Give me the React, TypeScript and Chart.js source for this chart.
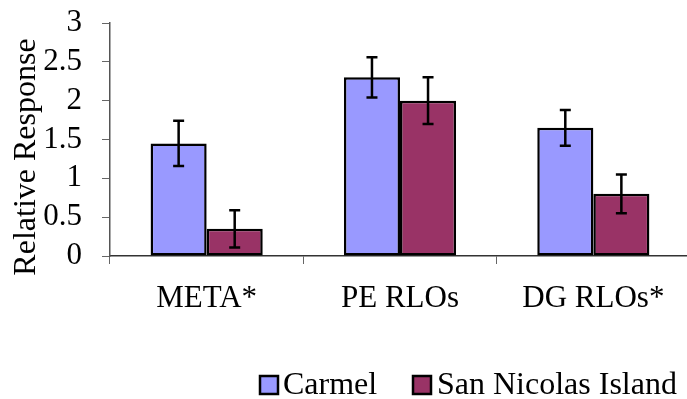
import { useEffect, useRef } from 'react';
import { Chart, registerables } from 'chart.js';

Chart.register(...registerables);

const categories = ['META*', 'PE RLOs', 'DG RLOs*'];
const seriesNames = ['Carmel', 'San Nicolas Island'];
const carmelValues = [1.45, 2.3, 1.65];
const carmelErrors = [0.29, 0.26, 0.23];
const sniValues = [0.35, 2.0, 0.8];
const sniErrors = [0.24, 0.3, 0.25];
const seriesColors = ['#9999FF', '#993366'];
const yTitle = 'Relative Response';

const FONT = "'Liberation Serif', 'Times New Roman', serif";

// Symmetric error bars with short caps, drawn over each bar
const errorBarPlugin = {
  id: 'errorBars',
  afterDatasetsDraw(chart: any) {
    const { ctx } = chart;
    const y = chart.scales.y;
    chart.data.datasets.forEach((ds: any, di: number) => {
      const meta = chart.getDatasetMeta(di);
      meta.data.forEach((bar: any, i: number) => {
        const v = ds.data[i];
        const e = ds.errors[i];
        const top = y.getPixelForValue(v + e);
        const bot = y.getPixelForValue(v - e);
        const half = 5.5;
        ctx.save();
        ctx.strokeStyle = '#000';
        ctx.lineWidth = 2.5;
        ctx.beginPath();
        ctx.moveTo(bar.x, top);
        ctx.lineTo(bar.x, bot);
        ctx.moveTo(bar.x - half, top);
        ctx.lineTo(bar.x + half, top);
        ctx.moveTo(bar.x - half, bot);
        ctx.lineTo(bar.x + half, bot);
        ctx.stroke();
        ctx.restore();
      });
    });
  },
};

// Rotated y-axis title and the bottom legend row
const decorationsPlugin = {
  id: 'decorations',
  afterDraw(chart: any) {
    const { ctx } = chart;
    ctx.save();
    ctx.fillStyle = '#000';
    ctx.font = `32px ${FONT}`;
    ctx.translate(35, 157);
    ctx.rotate(-Math.PI / 2);
    ctx.textAlign = 'center';
    ctx.textBaseline = 'alphabetic';
    ctx.fillText(yTitle, 0, 0);
    ctx.restore();

    const items = [
      { boxX: 260, textX: 283 },
      { boxX: 413, textX: 437 },
    ];
    ctx.save();
    ctx.font = `32px ${FONT}`;
    ctx.textAlign = 'left';
    ctx.textBaseline = 'alphabetic';
    chart.data.datasets.forEach((ds: any, i: number) => {
      const it = items[i];
      ctx.fillStyle = ds.backgroundColor;
      ctx.fillRect(it.boxX, 376, 18, 18);
      ctx.strokeStyle = '#000';
      ctx.lineWidth = 2.5;
      ctx.strokeRect(it.boxX, 376, 18, 18);
      ctx.fillStyle = '#000';
      ctx.fillText(ds.label, it.textX, 394);
    });
    ctx.restore();
  },
};

export default function App() {
  const canvasRef = useRef<HTMLCanvasElement | null>(null);

  useEffect(() => {
    const canvas = canvasRef.current;
    if (!canvas) return;
    const chart = new Chart(canvas, {
      type: 'bar',
      data: {
        labels: categories,
        datasets: [
          {
            label: seriesNames[0],
            data: carmelValues,
            errors: carmelErrors,
            backgroundColor: seriesColors[0],
            borderColor: '#000',
            borderWidth: 2.5,
            borderSkipped: false,
          } as any,
          {
            label: seriesNames[1],
            data: sniValues,
            errors: sniErrors,
            backgroundColor: seriesColors[1],
            borderColor: '#000',
            borderWidth: 2.5,
            borderSkipped: false,
          } as any,
        ],
      },
      options: {
        responsive: false,
        animation: false,
        devicePixelRatio: 1,
        layout: { padding: { top: 23, right: 10, bottom: 0, left: 0 } },
        datasets: {
          bar: { categoryPercentage: 0.58, barPercentage: 1 },
        },
        plugins: {
          legend: { display: false },
          tooltip: { enabled: false },
        },
        scales: {
          x: {
            grid: {
              display: true,
              drawOnChartArea: false,
              drawTicks: true,
              tickLength: 8,
              tickColor: '#666',
            },
            border: { display: true, color: '#333', width: 1.5 },
            ticks: {
              color: '#000',
              font: { family: FONT, size: 31 },
              padding: 16,
              maxRotation: 0,
            },
            afterFit(scale: any) {
              scale.height = 143;
              scale.paddingLeft = 0;
              scale.paddingRight = 0;
            },
          },
          y: {
            min: 0,
            max: 3,
            grid: {
              display: true,
              drawOnChartArea: false,
              drawTicks: true,
              tickLength: 8,
              tickColor: '#666',
            },
            border: { display: true, color: '#555', width: 1.5 },
            ticks: {
              stepSize: 0.5,
              autoSkip: false,
              color: '#000',
              font: { family: FONT, size: 31 },
              padding: 20,
              callback: (value: any) => String(Number(value)),
            },
            afterFit(scale: any) {
              scale.width = 110;
              scale.paddingTop = 0;
              scale.paddingBottom = 0;
            },
          },
        },
      },
      plugins: [errorBarPlugin, decorationsPlugin],
    });
    return () => chart.destroy();
  }, []);

  return (
    <div
      style={{
        position: 'fixed',
        left: 0,
        top: 0,
        width: 687,
        height: 399,
        overflow: 'hidden',
        background: '#fff',
      }}
    >
      <canvas ref={canvasRef} width={700} height={399} style={{ display: 'block' }} />
    </div>
  );
}
